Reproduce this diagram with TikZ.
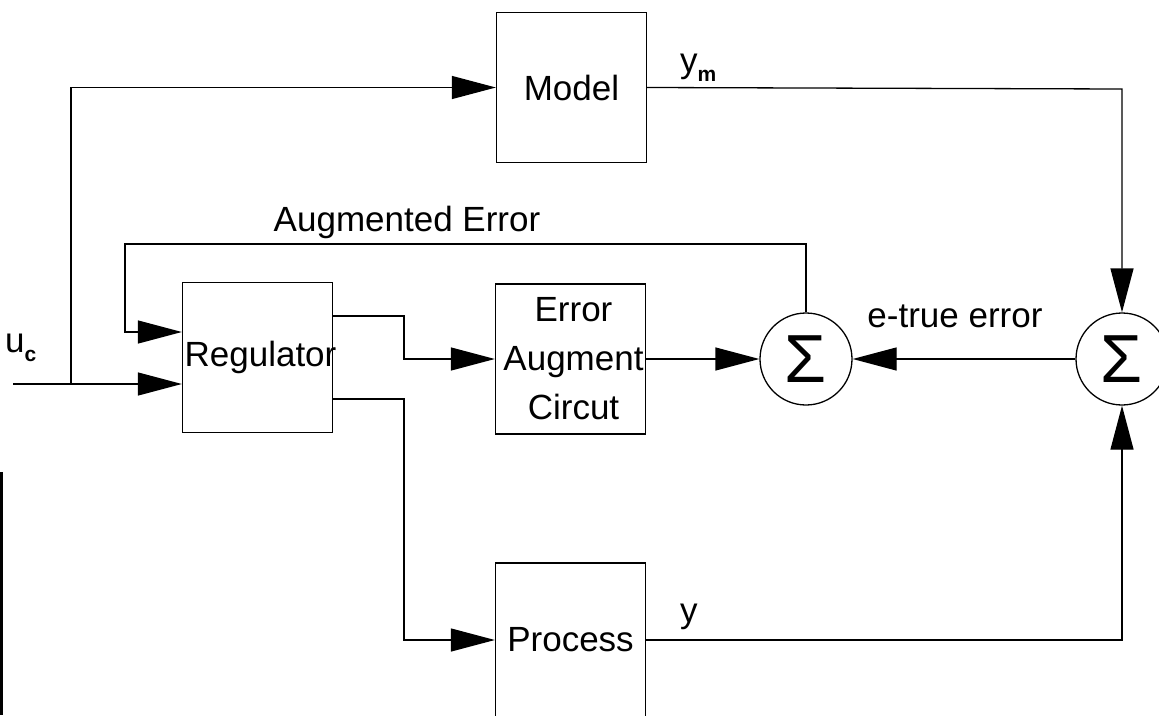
\documentclass[tikz,border=0pt]{standalone}
\usepackage{fontspec}
\setmainfont{Liberation Sans}
\usetikzlibrary{arrows.meta,calc}
\newcommand\lblfont{\fontsize{35}{49}\selectfont}
\newcommand\sigfont{\fontsize{68}{68}\selectfont}
\newcommand\subtx[1]{\raisebox{-9pt}{\fontsize{21}{21}\selectfont\bfseries #1}}
\begin{document}
\begin{tikzpicture}[x=1pt,y=-1pt,
  blk/.style={draw, line width=1.3pt, minimum width=150pt, minimum height=150pt,
              inner sep=0pt, font=\lblfont, align=center},
  sumnode/.style={draw, circle, line width=1.3pt, minimum size=92pt, inner sep=0pt, font=\sigfont},
  lbl/.style={inner sep=0pt, font=\lblfont, align=center},
  wire/.style={line width=1.3pt},
  feed/.style={wire, -{Triangle[length=44pt,width=23pt]}}]
\useasboundingbox (0,0) rectangle (1159,715);

% blocks
\node[blk] (model) at (571.5,87.5) {Model};
\node[blk] (reg) at (257.5,357.5) {};
\node[lbl] (regtxt) at ([xshift=3pt]reg.center) {Regulator};
\node[blk] (eac) at (570.5,359) {};
\node[lbl] (eactxt) at ([xshift=3pt]eac.center) {Error\\Augment\\Circut};
\node[blk, minimum height=154pt] (proc) at (570.5,640) {Process};

% summing junctions
\node[sumnode] (lsum) at (806,359) {Σ};
\node[sumnode] (rsum) at (1122,359) {Σ};

% reference input u_c
\coordinate (ucin) at (13,384);
\coordinate (uj) at (71,384);
\coordinate (rin2) at (reg.west |- uj);
\draw[feed] (ucin) -- (rin2);
\draw[feed] (uj) |- (model.west);

% augmented error feedback
\coordinate (augL) at (125,244);
\coordinate (rin1) at (reg.west |- 0,332);
\draw[feed] (lsum.north) |- (augL) |- (rin1);

% regulator outputs
\coordinate (ro1) at (reg.east |- 0,316);
\coordinate (ro2) at (reg.east |- 0,399);
\coordinate (j1) at (404,316);
\coordinate (j2) at (404,399);
\draw[feed] (ro1) -- (j1) |- (eac.west);
\draw[feed] (ro2) -- (j2) |- (proc.west);

% error paths
\draw[feed] (eac.east) -- (lsum.west);
\draw[feed] (rsum.west) -- (lsum.east);

% model and process outputs
\coordinate (ymc) at (1122,89);
\draw[feed] (model.east) -- (ymc) -- (rsum.north);
\draw[feed] (proc.east) -| (rsum.south);

% labels
\node[lbl] (auglbl) at (407,222) {Augmented Error};
\node[lbl] (etrue) at (955,316) {e-true error};
\node[lbl, anchor=base west] (uclbl) at (5,352) {u\subtx{c}};
\node[lbl, anchor=base west] (ymlbl) at (680,72) {y\subtx{m}};
\node[lbl, anchor=base west] (ylbl) at (680,622) {y};

% dark strip along the lower left edge
\draw[line width=3pt] (1.5,472) -- (1.5,715);
\end{tikzpicture}
\end{document}
